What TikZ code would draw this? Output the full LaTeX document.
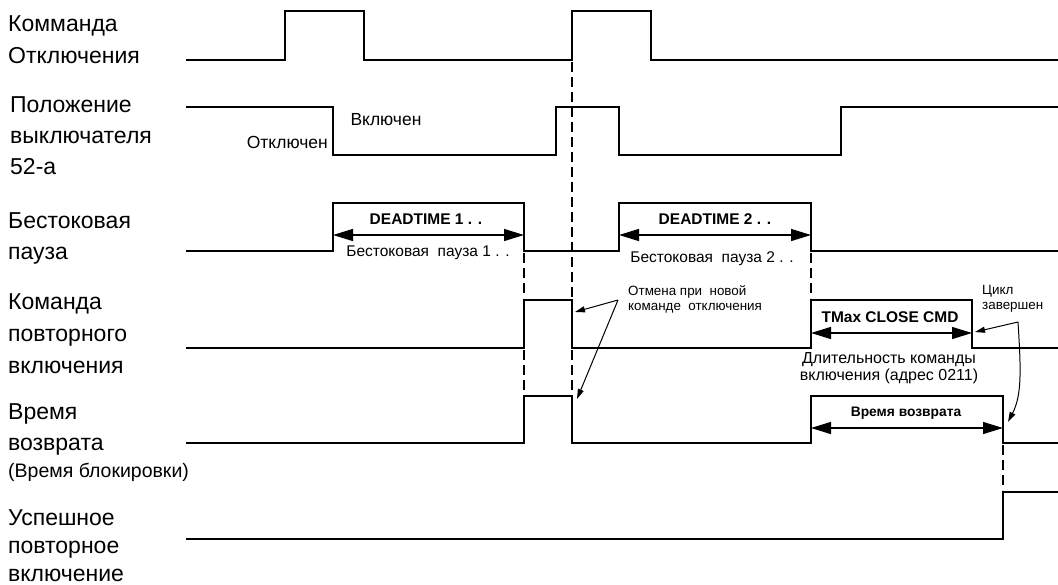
\documentclass[tikz,border=0pt]{standalone}
\usepackage{fontspec}
\setmainfont{Liberation Sans}
\usetikzlibrary{arrows.meta}
\tikzset{
  sig/.style={line width=2.6pt, line join=miter, line cap=rect},
  guide/.style={line width=1.2pt, dash pattern=on 10pt off 5pt},
  dimarrow/.style={line width=1.4pt, {Triangle[length=20pt,width=12pt]}-{Triangle[length=20pt,width=12pt]}},
  notearrow/.style={line width=1pt, -{Triangle[length=10pt,width=6pt]}},
  rowlabel/.style={anchor=north west, inner sep=0pt, align=left},
  txt/.style={inner sep=0pt}
}
\begin{document}
\begin{tikzpicture}[x=1pt,y=-1pt]
\useasboundingbox (0,0) rectangle (1058,584);

% row labels
\node[rowlabel, font=\fontsize{23}{32}\selectfont] (l1) at (8,15.5) {Комманда\\Отключения};
\node[rowlabel, font=\fontsize{23}{31}\selectfont] (l2) at (10,96.5) {Положение\\выключателя\\52-а};
\node[rowlabel, font=\fontsize{23}{31}\selectfont] (l3) at (8,212.5) {Бестоковая\\пауза};
\node[rowlabel, font=\fontsize{23}{32}\selectfont] (l4) at (8,293) {Команда\\повторного\\включения};
\node[rowlabel, font=\fontsize{23}{31}\selectfont] (l5) at (8,403) {Время\\возврата\\[-4pt]{\fontsize{19.5}{19.5}\selectfont(Время блокировки)}};
\node[rowlabel, font=\fontsize{23}{28}\selectfont] (l6) at (8,509) {Успешное\\повторное\\включение};

% waveforms
\draw[sig] (187,60) -- (285,60) -- (285,11) -- (364,11) -- (364,60) -- (572,60) -- (572,11) -- (651,11) -- (651,60) -- (1058,60);
\draw[sig] (187,107) -- (333,107) -- (333,155) -- (556,155) -- (556,107) -- (619,107) -- (619,155) -- (841,155) -- (841,107) -- (1058,107);
\draw[sig] (187,251) -- (333,251) -- (333,203) -- (524,203) -- (524,251) -- (619,251) -- (619,203) -- (811,203) -- (811,251) -- (1058,251);
\draw[sig] (187,348) -- (524,348) -- (524,300) -- (572,300) -- (572,348) -- (811,348) -- (811,300) -- (972,300) -- (972,348) -- (1058,348);
\draw[sig] (187,443) -- (524,443) -- (524,396) -- (572,396) -- (572,443) -- (811,443) -- (811,396) -- (1003,396) -- (1003,443) -- (1058,443);
\draw[sig] (187,539) -- (1003,539) -- (1003,492) -- (1058,492);

% guide lines
\draw[guide] (572,62) -- (572,298);
\draw[guide] (572,350) -- (572,394);
\draw[guide] (524,253) -- (524,298);
\draw[guide] (524,350) -- (524,394);
\draw[guide] (811,253) -- (811,298);
\draw[guide] (1003,445) -- (1003,490);

% breaker state labels
\node[txt, font=\fontsize{17.5}{18}\selectfont] (on) at (386,120) {Включен};
\node[txt, font=\fontsize{17.5}{18}\selectfont, anchor=east] (off) at (328,142) {Отключен};

% dead time 1
\coordinate (d1a) at (333,235); \coordinate (d1b) at (524,235);
\draw[dimarrow] (d1a) -- (d1b);
\node[txt, font=\bfseries\fontsize{15.5}{16}\selectfont] (dt1) at (426,219) {DEADTIME 1 . .};
\node[txt, font=\fontsize{15.5}{16}\selectfont] (bp1) at (428,253) {Бестоковая\ \ пауза 1 . .};

% dead time 2
\coordinate (d2a) at (619,235); \coordinate (d2b) at (811,235);
\draw[dimarrow] (d2a) -- (d2b);
\node[txt, font=\bfseries\fontsize{15.5}{16}\selectfont] (dt2) at (715,219) {DEADTIME 2 . .};
\node[txt, font=\fontsize{15.5}{16}\selectfont] (bp2) at (712,259) {Бестоковая\ \ пауза 2 . .};

% TMax close cmd
\coordinate (c1a) at (811,333); \coordinate (c1b) at (972,333);
\draw[dimarrow] (c1a) -- (c1b);
\node[txt, font=\bfseries\fontsize{15.5}{16}\selectfont] (tmax) at (890,317) {TMax CLOSE CMD};
\node[txt, font=\fontsize{16}{17.5}\selectfont, align=center] (dur) at (889,368) {Длительность команды\\включения (адрес 0211)};

% reclaim time
\coordinate (r1a) at (811,428); \coordinate (r1b) at (1003,428);
\draw[dimarrow] (r1a) -- (r1b);
\node[txt, font=\bfseries\fontsize{13.8}{14}\selectfont] (rt) at (906,413) {Время возврата};

% cancel note
\node[txt, font=\fontsize{13.4}{15}\selectfont, align=left, anchor=west] (cancel) at (628,299) {Отмена при\ \ новой\\команде\ \ отключения};
\coordinate (cn) at (618,300);
\coordinate (cn1) at (575,312);
\coordinate (cn2) at (577,399);
\draw[notearrow] (cn) -- (cn1);
\draw[notearrow] (cn) -- (cn2);

% cycle complete note
\node[txt, font=\fontsize{13.4}{15}\selectfont, align=left, anchor=west] (cycle) at (982,299) {Цикл\\завершен};
\coordinate (cy) at (1018,322);
\coordinate (cy1) at (975,332);
\coordinate (cy2) at (1008,422);
\draw[notearrow] (cy) -- (cy1);
\draw[notearrow] (cy) .. controls (1021,370) and (1022,395) .. (cy2);
\end{tikzpicture}
\end{document}
